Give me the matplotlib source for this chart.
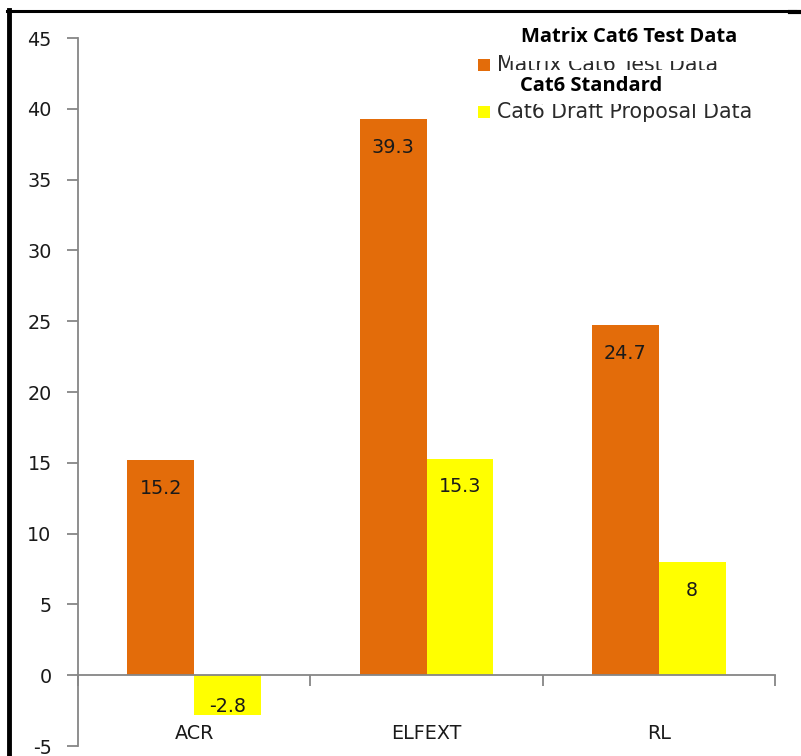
import matplotlib
matplotlib.use("Agg")
import matplotlib.pyplot as plt
from matplotlib.patches import Rectangle
from matplotlib.lines import Line2D
import numpy as np

categories = ["ACR", "ELFEXT", "RL"]
matrix_vals = [15.2, 39.3, 24.7]
draft_vals = [-2.8, 15.3, 8]
series_names = ["Matrix Cat6 Test Data", "Cat6 Draft Proposal Data"]
overlay_titles = ["Matrix Cat6 Test Data", "Cat6 Standard"]
yticks = [-5, 0, 5, 10, 15, 20, 25, 30, 35, 40, 45]

ORANGE = "#E36C0A"
YELLOW = "#FFFF00"
GRAY = "#868686"
FONT = ["DejaVu Sans"]
BFONT = ["Open Sans", "DejaVu Sans"]

W, H = 801, 756
fig = plt.figure(figsize=(W / 100, H / 100), dpi=100)
ax = fig.add_axes([78 / W, 1 - 746 / H, (775 - 78) / W, (746 - 38) / H])

x = np.arange(len(categories))
bw = 0.287
ax.bar(x - bw / 2, matrix_vals, bw, color=ORANGE, zorder=2)
ax.bar(x + bw / 2, draft_vals, bw, color=YELLOW, zorder=2)

LS = 13.8
for xi, v in zip(x - bw / 2, matrix_vals):
    ax.text(xi, v - 2.0, f"{v:g}", ha="center", va="center", fontsize=LS, family=FONT, color="#1a1a1a")
for xi, v in zip(x + bw / 2, draft_vals):
    yy = v - 2.0 if v > 0 else -2.2
    ax.text(xi, yy, f"{v:g}", ha="center", va="center", fontsize=LS, family=FONT, color="#1a1a1a")

for xi, c in zip(x, categories):
    ax.text(xi, -4.1, c, ha="center", va="center", fontsize=LS, family=FONT, color="#1a1a1a")

ax.set_xlim(-0.5, 2.5)
ax.set_ylim(-5, 45)
ax.set_yticks(yticks)
ax.set_yticklabels([str(t) for t in yticks], family=FONT, fontsize=13.8)
ax.set_xticks([-0.5, 0.5, 1.5, 2.5])
ax.set_xticklabels([])
ax.spines["top"].set_visible(False)
ax.spines["right"].set_visible(False)
ax.spines["bottom"].set_position(("data", 0))
for s in ["left", "bottom"]:
    ax.spines[s].set_color(GRAY)
    ax.spines[s].set_linewidth(1.3)
ax.tick_params(axis="y", direction="out", length=8, color=GRAY, width=1.3, pad=11, labelcolor="#1a1a1a")
ax.tick_params(axis="x", direction="out", length=8, color=GRAY, width=1.3)
ax.patch.set_alpha(0)

def fx(px):
    return px / W

def fy(py):
    return 1 - py / H

# legend
leg_items = [(ORANGE, series_names[0], 65), (YELLOW, series_names[1], 112)]
for col, name, yc in leg_items:
    fig.patches.append(Rectangle((fx(478), fy(yc + 6)), 12 / W, 12 / H, transform=fig.transFigure,
                                 facecolor=col, edgecolor="none", zorder=5))
    fig.text(fx(497), fy(yc), name, ha="left", va="center", fontsize=14.8, family=FONT,
             color="#2a2a2a", zorder=5)

# white overlay boxes with bold titles
fig.patches.append(Rectangle((fx(510), fy(61)), (795 - 510) / W, (61 - 12) / H, transform=fig.transFigure,
                             facecolor="white", edgecolor="none", zorder=6))
fig.patches.append(Rectangle((fx(510), fy(104)), (795 - 510) / W, (104 - 70) / H, transform=fig.transFigure,
                             facecolor="white", edgecolor="none", zorder=6))
fig.text(fx(521), fy(37), overlay_titles[0], ha="left", va="center", fontsize=14.5, fontweight="bold",
         family=BFONT, color="black", zorder=7)
fig.text(fx(520), fy(86), overlay_titles[1], ha="left", va="center", fontsize=14.5, fontweight="bold",
         family=BFONT, color="black", zorder=7)

# frame lines
fig.lines.append(Line2D([fx(7), fx(795)], [fy(10.5), fy(10.5)], transform=fig.transFigure,
                        color="black", linewidth=2.2, zorder=8))
fig.lines.append(Line2D([fx(9), fx(9)], [fy(10), fy(756)], transform=fig.transFigure,
                        color="black", linewidth=3.5, zorder=8))
fig.lines.append(Line2D([fx(790), fx(801)], [fy(12), fy(12)], transform=fig.transFigure,
                        color="black", linewidth=3, zorder=8))

fig.savefig("out.png", dpi=100)
